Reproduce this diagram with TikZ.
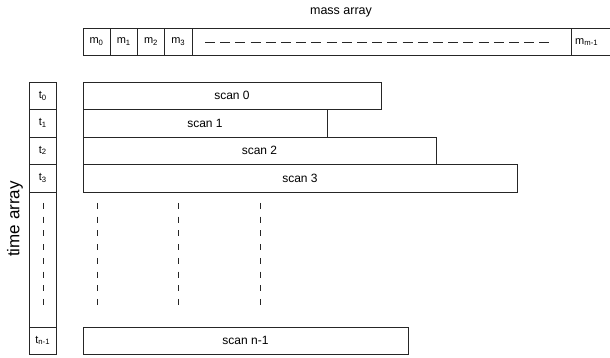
\documentclass[tikz,border=0pt]{standalone}
\usepackage{fontspec}
\setmainfont{Liberation Sans}
\begin{document}
\begin{tikzpicture}[x=1pt,y=-1pt,
  cell/.style={draw=black!85,line width=0.8pt,inner sep=0pt,outer sep=0pt,anchor=north west,font=\fontsize{11}{13}\selectfont},
  scanbox/.style={cell,font=\fontsize{12}{14}\selectfont},
  rule/.style={draw=black!85,line width=0.8pt},
  dsh/.style={draw=black!85,line width=0.9pt,dash pattern=on 6pt off 7.7pt},
  lbl/.style={font=\fontsize{12.5}{14}\selectfont,inner sep=0pt}]
\useasboundingbox (0,0) rectangle (610,358);
% mass array
\node[lbl] (mlabel) at (341,12) {mass array};
\node[cell,minimum width=27pt,minimum height=27.5pt] (m0) at (83,28) {m\textsubscript{0}};
\node[cell,minimum width=27.5pt,minimum height=27.5pt] (m1) at (110,28) {m\textsubscript{1}};
\node[cell,minimum width=27pt,minimum height=27.5pt] (m2) at (137.5,28) {m\textsubscript{2}};
\node[cell,minimum width=27.5pt,minimum height=27.5pt] (m3) at (164.5,28) {m\textsubscript{3}};
\node[cell,minimum width=379pt,minimum height=27.5pt] (mdots) at (192,28) {};
\coordinate (mend1) at (612,28);
\coordinate (mend2) at (612,55.5);
\draw[rule] (mdots.north east) -- (mend1) (mdots.south east) -- (mend2);
\node[font=\fontsize{11}{13}\selectfont,inner sep=0pt,anchor=west] (mlast) at (575,42) {m\textsubscript{m-1}};
\coordinate (ma) at (205,42);
\coordinate (mb) at (551,42);
\draw[black!85,line width=0.9pt,dash pattern=on 10pt off 5.2pt] (ma) -- (mb);
% time array
\node[lbl,rotate=90,font=\fontsize{17}{19}\selectfont] (tlabel) at (15,219) {time array};
\node[cell,minimum width=27.5pt,minimum height=27.5pt] (t0) at (29,82) {t\textsubscript{0}};
\node[cell,minimum width=27.5pt,minimum height=27.5pt] (t1) at (29,109.5) {t\textsubscript{1}};
\node[cell,minimum width=27.5pt,minimum height=27pt] (t2) at (29,137) {t\textsubscript{2}};
\node[cell,minimum width=27.5pt,minimum height=28pt] (t3) at (29,164) {t\textsubscript{3}};
\node[cell,minimum width=27.5pt,minimum height=135pt] (tdots) at (29,192) {};
\node[cell,minimum width=27.5pt,minimum height=27pt] (tlast) at (29,327) {t\textsubscript{n-1}};
% scans
\node[scanbox,minimum width=298pt,minimum height=27.5pt] (s0) at (83,82) {scan 0};
\node[scanbox,minimum width=244pt,minimum height=27.5pt] (s1) at (83,109.5) {scan 1};
\node[scanbox,minimum width=353pt,minimum height=27pt] (s2) at (83,137) {scan 2};
\node[scanbox,minimum width=434pt,minimum height=28pt] (s3) at (83,164) {scan 3};
\node[scanbox,minimum width=325pt,minimum height=27pt] (sn) at (83,327) {scan n-1};
% dashed columns
\coordinate (d0a) at (43,203); \coordinate (d0b) at (43,306);
\coordinate (d1a) at (97,203); \coordinate (d1b) at (97,306);
\coordinate (d2a) at (178,203); \coordinate (d2b) at (178,306);
\coordinate (d3a) at (260,203); \coordinate (d3b) at (260,306);
\draw[dsh] (d0a) -- (d0b);
\draw[dsh] (d1a) -- (d1b);
\draw[dsh] (d2a) -- (d2b);
\draw[dsh] (d3a) -- (d3b);
\end{tikzpicture}
\end{document}
